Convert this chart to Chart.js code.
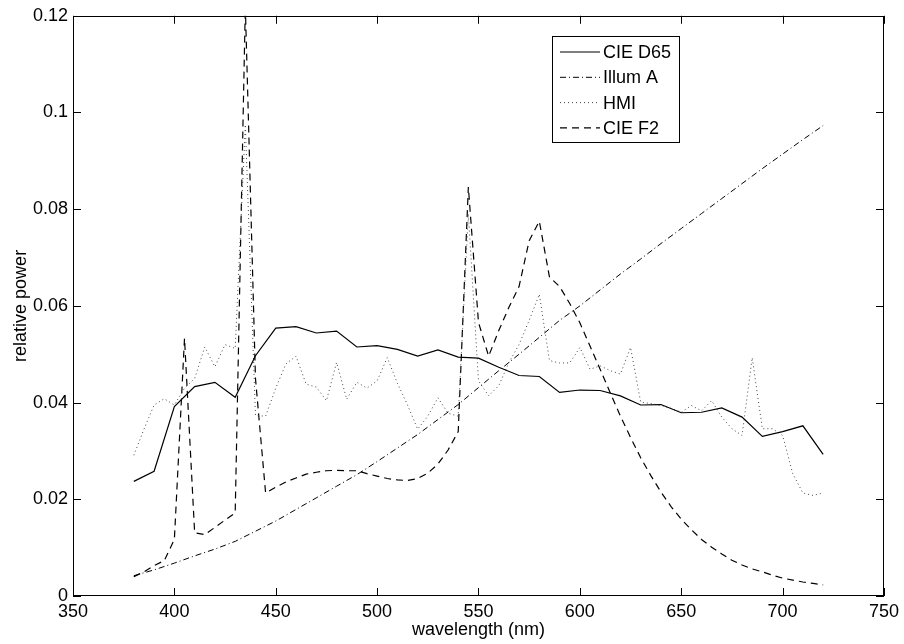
<!DOCTYPE html>
<html>
<head>
<meta charset="utf-8">
<script src="https://cdn.jsdelivr.net/npm/chart.js@4.4.1/dist/chart.umd.min.js"></script>
<style>
  html, body { margin: 0; padding: 0; background: #fff; }
  #chart { display: block; }
</style>
</head>
<body>
<canvas id="chart" width="904" height="644"></canvas>
<script>
// wavelengths (nm)
const wl10 = [380, 390, 400, 410, 420, 430, 440, 450, 460, 470, 480, 490, 500, 510, 520, 530, 540, 550,
  560, 570, 580, 590, 600, 610, 620, 630, 640, 650, 660, 670, 680, 690, 700, 710, 720];
const wl5 = [380, 385, 390, 395, 400, 405, 410, 415, 420, 425, 430, 435, 440, 445, 450, 455, 460, 465,
  470, 475, 480, 485, 490, 495, 500, 505, 510, 515, 520, 525, 530, 535, 540, 545, 550, 555, 560, 565,
  570, 575, 580, 585, 590, 595, 600, 605, 610, 615, 620, 625, 630, 635, 640, 645, 650, 655, 660, 665,
  670, 675, 680, 685, 690, 695, 700, 705, 710, 715, 720];

// relative power
const d65 = [0.0237, 0.0258, 0.0392, 0.0433, 0.0442, 0.0411, 0.0497, 0.0554, 0.0557, 0.0544, 0.0548,
  0.0515, 0.0518, 0.0510, 0.0496, 0.0509, 0.0494, 0.0492, 0.0473, 0.0456, 0.0454, 0.0421, 0.0426,
  0.0425, 0.0414, 0.0395, 0.0396, 0.0379, 0.0380, 0.0389, 0.0370, 0.0330, 0.0340, 0.0352, 0.0293];

const illumA = [0.0042, 0.0054, 0.0068, 0.0083, 0.0097, 0.0113, 0.0134, 0.0155, 0.0179, 0.0203, 0.0227,
  0.0251, 0.0278, 0.0306, 0.0334, 0.0365, 0.0396, 0.0431, 0.0466, 0.0500, 0.0535, 0.0570, 0.0600,
  0.0633, 0.0666, 0.0697, 0.0729, 0.0760, 0.0791, 0.0822, 0.0853, 0.0884, 0.0914, 0.0944, 0.0973];

const hmi = [0.0291, 0.0345, 0.0395, 0.0408, 0.0395, 0.0430, 0.0450, 0.0515, 0.0474, 0.0520, 0.0512,
  0.0975, 0.0373, 0.0372, 0.0430, 0.0480, 0.0496, 0.0438, 0.0432, 0.0404, 0.0483, 0.0407, 0.0442,
  0.0430, 0.0445, 0.0493, 0.0440, 0.0395, 0.0345, 0.0372, 0.0410, 0.0378, 0.0372, 0.0790, 0.0445,
  0.0414, 0.0435, 0.0483, 0.0520, 0.0570, 0.0624, 0.0487, 0.0482, 0.0482, 0.0514, 0.0469, 0.0476,
  0.0466, 0.0459, 0.0514, 0.0401, 0.0398, 0.0394, 0.0388, 0.0380, 0.0394, 0.0383, 0.0404, 0.0370,
  0.0346, 0.0332, 0.0493, 0.0346, 0.0346, 0.0332, 0.0253, 0.0213, 0.0208, 0.0213];

const f2 = [0.0040, 0.0050, 0.0063, 0.0073, 0.0117, 0.0533, 0.0131, 0.0127, 0.0142, 0.0157, 0.0172,
  0.1220, 0.0450, 0.0213, 0.0225, 0.0236, 0.0244, 0.0252, 0.0256, 0.0259, 0.0260, 0.0259, 0.0259,
  0.0253, 0.0248, 0.0243, 0.0240, 0.0239, 0.0243, 0.0254, 0.0273, 0.0302, 0.0340, 0.0846, 0.0566,
  0.0496, 0.0549, 0.0597, 0.0640, 0.0735, 0.0775, 0.0660, 0.0640, 0.0605, 0.0565, 0.0517, 0.0469,
  0.0420, 0.0372, 0.0328, 0.0286, 0.0249, 0.0215, 0.0185, 0.0159, 0.0137, 0.0117, 0.0101, 0.0087,
  0.0074, 0.0064, 0.0056, 0.0050, 0.0043, 0.0037, 0.0033, 0.0029, 0.0026, 0.0023];

const seriesNames = ["CIE D65", "Illum A", "HMI", "CIE F2"];
const xTickLabels = ["350", "400", "450", "500", "550", "600", "650", "700", "750"];
const yTickLabels = ["0", "0.02", "0.04", "0.06", "0.08", "0.1", "0.12"];

const FONT = "'Liberation Sans', Arial, Helvetica, sans-serif";

const toPoints = (xs, ys) => xs.map((x, i) => ({ x: x, y: ys[i] }));

// matlab style box, inward ticks and legend
const matlabBox = {
  id: "matlabBox",
  afterDraw(chart) {
    const { ctx, chartArea: a } = chart;
    const x = chart.scales.x;
    const y = chart.scales.y;
    ctx.save();
    ctx.strokeStyle = "#000";
    ctx.lineWidth = 1;
    ctx.setLineDash([]);
    ctx.strokeRect(Math.round(a.left) + 0.5, Math.round(a.top) + 0.5,
      Math.round(a.width) - 1, Math.round(a.height) - 1);

    ctx.beginPath();
    x.ticks.forEach((t) => {
      const px = Math.round(x.getPixelForValue(t.value)) + 0.5;
      ctx.moveTo(px, a.bottom); ctx.lineTo(px, a.bottom - 8);
      ctx.moveTo(px, a.top); ctx.lineTo(px, a.top + 8);
    });
    y.ticks.forEach((t) => {
      const py = Math.round(y.getPixelForValue(t.value)) + 0.5;
      ctx.moveTo(a.left, py); ctx.lineTo(a.left + 8, py);
      ctx.moveTo(a.right, py); ctx.lineTo(a.right - 8, py);
    });
    ctx.stroke();

    // legend
    const lx = 552.5, ly = 36.5, lw = 127, lh = 106;
    ctx.fillStyle = "#fff";
    ctx.fillRect(lx, ly, lw, lh);
    ctx.strokeRect(lx, ly, lw, lh);
    ctx.font = "18px " + FONT;
    ctx.textBaseline = "middle";
    ctx.textAlign = "left";
    chart.data.datasets.forEach((ds, i) => {
      const ry = 52 + i * 25.3;
      ctx.strokeStyle = ds.borderColor;
      ctx.lineWidth = ds.borderWidth;
      ctx.setLineDash(ds.borderDash || []);
      ctx.beginPath();
      ctx.moveTo(560, ry);
      ctx.lineTo(600, ry);
      ctx.stroke();
      ctx.fillStyle = "#000";
      ctx.fillText(ds.label, 603, ry + 1);
    });
    ctx.restore();
  }
};

const ctx = document.getElementById("chart").getContext("2d");

new Chart(ctx, {
  type: "line",
  data: {
    datasets: [
      {
        label: seriesNames[0],
        data: toPoints(wl10, d65),
        borderColor: "#000",
        borderWidth: 1.2,
        borderDash: [],
      },
      {
        label: seriesNames[1],
        data: toPoints(wl10, illumA),
        borderColor: "#000",
        borderWidth: 1,
        borderDash: [6, 3, 1, 3],
      },
      {
        label: seriesNames[2],
        data: toPoints(wl5, hmi),
        borderColor: "#444",
        borderWidth: 1,
        borderDash: [1, 3],
      },
      {
        label: seriesNames[3],
        data: toPoints(wl5, f2),
        borderColor: "#000",
        borderWidth: 1.2,
        borderDash: [7, 5],
      },
    ],
  },
  options: {
    responsive: false,
    animation: false,
    devicePixelRatio: 1,
    elements: {
      point: { radius: 0 },
      line: { tension: 0, fill: false },
    },
    layout: { padding: { left: 0, top: 14, right: 18, bottom: 0 } },
    plugins: {
      legend: { display: false },
      tooltip: { enabled: false },
    },
    scales: {
      x: {
        type: "linear",
        min: 350,
        max: 750,
        grid: { display: false, drawTicks: false },
        border: { display: false },
        ticks: {
          stepSize: 50,
          padding: 5,
          color: "#000",
          font: { family: FONT, size: 18 },
          maxRotation: 0,
          callback: (v, i) => xTickLabels[i],
        },
        title: {
          display: true,
          text: "wavelength (nm)",
          color: "#000",
          font: { family: FONT, size: 18 },
          padding: { top: 0, bottom: 3 },
        },
        afterFit: (scale) => { scale.height = 48; },
      },
      y: {
        min: 0,
        max: 0.12,
        grid: { display: false, drawTicks: false },
        border: { display: false },
        ticks: {
          stepSize: 0.02,
          padding: 5,
          color: "#000",
          font: { family: FONT, size: 18 },
          callback: (v, i) => yTickLabels[i],
        },
        title: {
          display: true,
          text: "relative power",
          color: "#000",
          font: { family: FONT, size: 18 },
          padding: { top: 10, bottom: 0 },
        },
        afterFit: (scale) => { scale.width = 73; },
      },
    },
  },
  plugins: [matlabBox],
});
</script>
</body>
</html>
